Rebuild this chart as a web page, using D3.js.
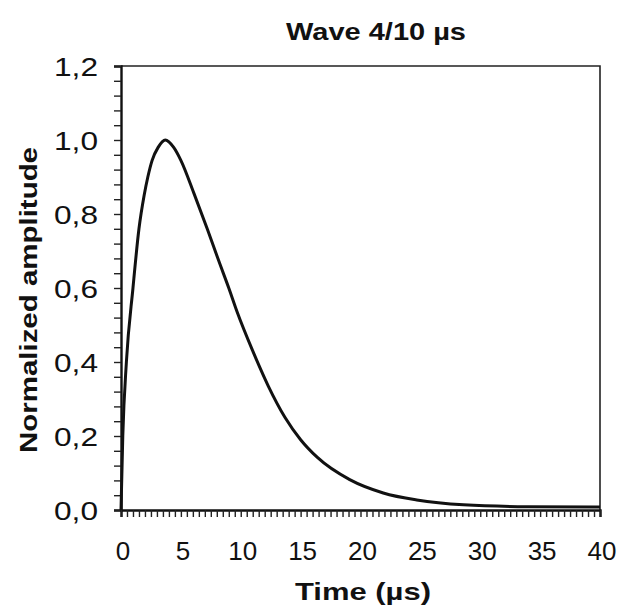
<!DOCTYPE html>
<html>
<head>
<meta charset="utf-8">
<script src="https://cdn.jsdelivr.net/npm/d3@7"></script>
<style>
    body { margin: 0; background: #fff; }
    text { font-family: "Liberation Sans", Arial, sans-serif; fill: #111; }
    .tick-label { font-size: 26px; }
    .axis-label { font-size: 24px; font-weight: bold; }
    .title { font-size: 24px; font-weight: bold; }
</style>
</head>
<body>
<div id="chart"></div>
<script>
// values
var timeUs = [0, 0.15, 0.45, 1.0, 1.5, 1.93, 2.24, 2.6, 3.1, 3.7, 4.4, 5.0, 6.1, 7.2, 8.2,
    9.0, 9.7, 11.0, 12.3, 13.7, 15.0, 16.4, 19.1, 21.9, 24.7, 28.6, 34, 40]
var amplitude = [0, 0.2, 0.4, 0.6, 0.76, 0.85, 0.9, 0.945, 0.98, 1.0, 0.98, 0.945, 0.855, 0.76, 0.67,
    0.6, 0.535, 0.43, 0.335, 0.25, 0.19, 0.142, 0.082, 0.046, 0.027, 0.014, 0.009, 0.008]
var xTicks = [0, 5, 10, 15, 20, 25, 30, 35, 40]
var yTicks = [0, 0.2, 0.4, 0.6, 0.8, 1.0, 1.2]
var titleText = "Wave 4/10 µs"
var xLabelText = "Time (µs)"
var yLabelText = "Normalized amplitude"

var W = 621, H = 613
var margin = { top: 66, right: 21, bottom: 103, left: 121 }
var width = W - margin.left - margin.right
var height = H - margin.top - margin.bottom

var data = timeUs.map(function(t, i){ return { t: t, a: amplitude[i] } })

var svg = d3.select("#chart")
    .append("svg")
        .attr("width", W)
        .attr("height", H)

var g = svg.append("g")
    .attr("transform", "translate(" + margin.left + "," + margin.top + ")")

var x = d3.scaleLinear().domain([0, 40]).range([0, width])
var y = d3.scaleLinear().domain([0, 1.2]).range([height, 0])

var fmt = function(d){ return d3.format(".1f")(d).replace(".", ",") }

// frame (top and right sides)
g.append("path")
    .attr("d", "M0," + y(1.2) + "H" + x(40) + "V" + y(0))
    .attr("fill", "none")
    .attr("stroke", "#222")
    .attr("stroke-width", 1.6)

// minor ticks on y every 0.04, x every 0.5
var yAxis = d3.axisLeft(y)
    .tickValues(d3.range(0, 1.2001, 0.04))
    .tickSize(7)
    .tickFormat("")
var xAxis = d3.axisBottom(x)
    .tickValues(d3.range(0, 40.001, 0.5))
    .tickSize(7)
    .tickFormat("")

var yAxisCall = g.append("g").call(yAxis)
var xAxisCall = g.append("g")
    .attr("transform", "translate(0," + height + ")")
    .call(xAxis)

yAxisCall.select(".domain").attr("stroke", "#111").attr("stroke-width", 2.4)
xAxisCall.select(".domain").attr("stroke", "#111").attr("stroke-width", 2.4)
g.selectAll(".tick line").attr("stroke", "#222").attr("stroke-width", 1.4)

// tick labels
g.selectAll(".ylab")
    .data(yTicks)
    .enter()
    .append("text")
        .attr("class", "tick-label")
        .attr("x", -23)
        .attr("y", function(d){ return y(d) + 10 })
        .attr("text-anchor", "end")
        .attr("textLength", 44)
        .attr("lengthAdjust", "spacingAndGlyphs")
        .text(fmt)

g.selectAll(".xlab")
    .data(xTicks)
    .enter()
    .append("text")
        .attr("class", "tick-label")
        .attr("x", function(d){ return x(d) + 2 })
        .attr("y", height + 50)
        .attr("text-anchor", "middle")
        .text(function(d){ return d })

// curve
g.append("path")
    .datum(data)
    .attr("fill", "none")
    .attr("stroke", "#111")
    .attr("stroke-width", 3)
    .attr("stroke-linejoin", "round")
    .attr("d", d3.line()
        .x(function(d){ return x(d.t) })
        .y(function(d){ return y(d.a) })
        .curve(d3.curveMonotoneX))

// labels
svg.append("text")
    .attr("class", "title")
    .attr("x", 376)
    .attr("y", 40)
    .attr("text-anchor", "middle")
    .attr("textLength", 180)
    .attr("lengthAdjust", "spacingAndGlyphs")
    .text(titleText)

svg.append("text")
    .attr("class", "axis-label")
    .attr("x", 363)
    .attr("y", 600)
    .attr("text-anchor", "middle")
    .attr("textLength", 136)
    .attr("lengthAdjust", "spacingAndGlyphs")
    .text(xLabelText)

svg.append("text")
    .attr("class", "axis-label")
    .attr("transform", "translate(37,300) rotate(-90)")
    .attr("text-anchor", "middle")
    .attr("textLength", 306)
    .attr("lengthAdjust", "spacingAndGlyphs")
    .text(yLabelText)
</script>
</body>
</html>
